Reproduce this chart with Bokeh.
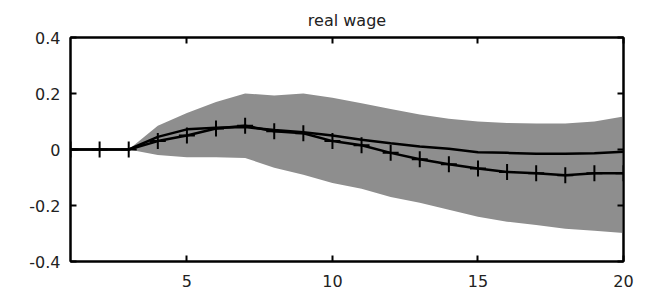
from bokeh.plotting import figure
from bokeh.models import Range1d, LinearAxis, FixedTicker, CustomLabelingPolicy
from bokeh.embed import file_html
from bokeh.resources import INLINE

title_text = "real wage"
horizon = list(range(1, 21))
band_upper = [0, 0, 0, 0.085, 0.13, 0.17, 0.2, 0.193, 0.2, 0.185, 0.165, 0.145,
              0.125, 0.11, 0.1, 0.095, 0.093, 0.093, 0.1, 0.118]
band_lower = [0, 0, 0, -0.02, -0.028, -0.028, -0.03, -0.065, -0.09, -0.12, -0.14,
              -0.17, -0.19, -0.215, -0.24, -0.258, -0.27, -0.283, -0.29, -0.298]
solid_line = [0, 0, 0, 0.045, 0.072, 0.078, 0.08, 0.07, 0.062, 0.05, 0.035, 0.022,
              0.011, 0.003, -0.01, -0.012, -0.015, -0.015, -0.013, -0.008]
marked_line = [0, 0, 0, 0.03, 0.05, 0.075, 0.085, 0.065, 0.058, 0.03, 0.015, -0.012,
               -0.035, -0.053, -0.068, -0.08, -0.085, -0.092, -0.085, -0.085]
x_ticks = [5, 10, 15, 20]
y_ticks = [-0.4, -0.2, 0, 0.2, 0.4]
y_tick_labels = ["-0.4", "-0.2", "0", "0.2", "0.4"]

FONT = "DejaVu Sans"

p = figure(width=650, height=291, output_backend="svg", toolbar_location=None,
           x_range=Range1d(1, 20), y_range=Range1d(-0.4, 0.4),
           min_border_left=70, min_border_right=27, min_border_top=37,
           min_border_bottom=30, title=title_text)
p.title.align = "center"
p.title.text_font = FONT
p.title.text_font_size = "16px"
p.title.text_font_style = "normal"
p.title.text_color = "#222222"
p.title.standoff = 15
p.grid.visible = False
p.outline_line_color = "black"
p.outline_line_width = 2
p.background_fill_color = "white"
p.border_fill_color = "white"

p.varea(x=horizon, y1=band_lower, y2=band_upper, fill_color="#8e8e8e")
p.line(horizon, solid_line, line_color="black", line_width=2.5)
p.line(horizon, marked_line, line_color="black", line_width=2.5)
p.scatter(horizon, marked_line, marker="cross", size=16, line_color="black", line_width=2)

hide_all = CustomLabelingPolicy(code="""
    for (const i of Array.from(indices)) { indices.unset(i) }
    return indices
""")


def style_axis(ax, ticks, show_labels=True, standoff=8):
    ax.ticker = FixedTicker(ticks=ticks)
    ax.major_tick_in = 6
    ax.major_tick_out = 0
    ax.minor_tick_in = 0
    ax.minor_tick_out = 0
    ax.major_tick_line_width = 2
    ax.axis_line_width = 2
    ax.axis_line_color = "black"
    ax.major_label_text_font = FONT
    ax.major_label_text_color = "#222222"
    if show_labels:
        ax.major_label_text_font_size = "16px"
        ax.major_label_standoff = standoff
    else:
        ax.major_label_text_font_size = "0px"
        ax.major_label_policy = hide_all
        ax.major_label_standoff = 0


xa = p.xaxis[0]
style_axis(xa, x_ticks, standoff=13)
ya = p.yaxis[0]
style_axis(ya, y_ticks, standoff=10)
ya.major_label_overrides = {t: s for t, s in zip(y_ticks, y_tick_labels)}

top = LinearAxis()
style_axis(top, x_ticks, show_labels=False)
p.add_layout(top, "above")
right = LinearAxis()
style_axis(right, y_ticks, show_labels=False)
p.add_layout(right, "right")

open("out.html", "w").write(file_html(p, INLINE))
